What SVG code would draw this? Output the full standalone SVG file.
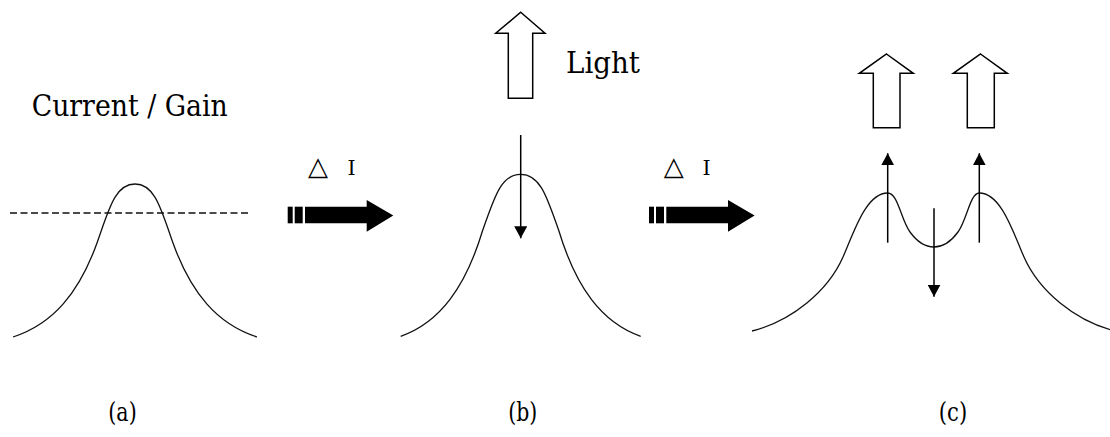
<svg xmlns="http://www.w3.org/2000/svg" width="1110" height="437" viewBox="0 0 1110 437">
<style>
.curve{fill:none;stroke:#111;stroke-width:1.3;stroke-linejoin:round}
.dash{fill:none;stroke:#111;stroke-width:1.4;stroke-dasharray:7 3.5}
.ptr{stroke:#000;stroke-width:1.5;fill:none}
.open{fill:#fff;stroke:#000;stroke-width:1.5;stroke-linejoin:miter}
.serif{font-family:"DejaVu Serif",serif;fill:#000}
</style>
<defs>
<marker id="head" markerUnits="userSpaceOnUse" markerWidth="13" markerHeight="13" refX="12" refY="6.5" orient="auto">
<path d="M0,0 L12,6.5 L0,13 z" fill="#000"/>
</marker>
<g id="fat">
<rect x="0" y="0" width="5" height="16.6" fill="#000"/>
<rect x="7" y="0" width="8" height="16.6" fill="#000"/>
<polygon points="17.3,0 79,0 79,-6.7 105.6,8.8 79,25 79,16.6 17.3,16.6" fill="#000"/>
</g>
</defs>
<rect width="1110" height="437" fill="#fff"/>

<g id="panel-a">
<text class="serif" x="31.7" y="115.7" font-size="30" textLength="196" lengthAdjust="spacingAndGlyphs">Current / Gain</text>
<line class="dash" x1="10" y1="213" x2="250" y2="213"/>
<path class="curve" d="M13,337 C53,324 79,293 97,243 C109,209 115,184 135,184 C155,184 161,209 173,243 C191,293 217,324 257,337"/>
<text class="serif" x="108.3" y="421" font-size="25.5" textLength="28.4" lengthAdjust="spacingAndGlyphs">(a)</text>
</g>

<g id="step-1">
<text font-family="'DejaVu Sans', sans-serif" x="308" y="175" font-size="26" fill="#000">△</text>
<text class="serif" x="347.5" y="175" font-size="20.5">I</text>
<use href="#fat" transform="translate(287.7,206.7)"/>
</g>

<g id="panel-b">
<polygon class="open" points="520.7,12.3 545,33.3 532.7,33.3 532.7,98.3 508.3,98.3 508.3,33.3 495.7,33.3"/>
<text class="serif" x="566" y="72.7" font-size="30" textLength="74" lengthAdjust="spacingAndGlyphs">Light</text>
<path class="curve" d="M400.7,336.3 C440,322.5 465.6,287 482.7,230.3 C494.5,197 501,174.3 520.7,174.3 C540.4,174.3 546.9,197 558.7,230.3 C575.8,287 601.4,322.5 640.7,336.3"/>
<text class="serif" x="508.3" y="421" font-size="25.5" textLength="29" lengthAdjust="spacingAndGlyphs">(b)</text>
</g>

<g id="step-2">
<text font-family="'DejaVu Sans', sans-serif" x="663.7" y="175" font-size="26" fill="#000">△</text>
<text class="serif" x="702.5" y="175" font-size="20.5">I</text>
<use href="#fat" transform="translate(649,206.7)"/>
</g>

<g id="panel-c">
<polygon class="open" points="886.5,54 913.3,73.3 900,73.3 900,127.7 873.3,127.7 873.3,73.3 859.3,73.3"/>
<polygon class="open" points="980.5,54 1007.3,73.3 994.3,73.3 994.3,127.7 967.3,127.7 967.3,73.3 953.3,73.3"/>
<path class="curve" d="M752,331 C792,321 828,291 843,257 C854,232 866,193 887.7,193 C898,193 901,220 910,232 C918,243 926,247 934,247 C942,247 950,243 958,232 C967,220 970,193 979.3,193 C1001,193 1013,232 1024,257 C1039,291 1075,321 1115,331"/>
<text class="serif" x="938.8" y="421" font-size="25.5" textLength="28.4" lengthAdjust="spacingAndGlyphs">(c)</text>
</g>

<g id="connectors">
<line class="ptr" x1="520.7" y1="135" x2="520.7" y2="238.3" marker-end="url(#head)"/>
<line class="ptr" x1="887.7" y1="242.7" x2="887.7" y2="153.3" marker-end="url(#head)"/>
<line class="ptr" x1="979.3" y1="242.7" x2="979.3" y2="153.3" marker-end="url(#head)"/>
<line class="ptr" x1="934" y1="208.3" x2="934" y2="296.7" marker-end="url(#head)"/>
</g>
</svg>
